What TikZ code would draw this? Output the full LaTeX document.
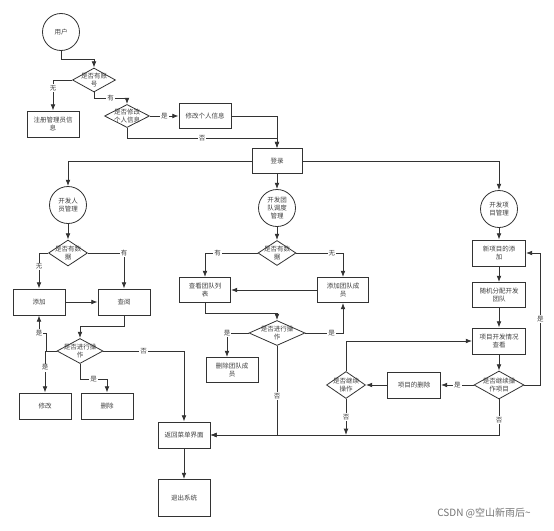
\documentclass[tikz,border=0pt]{standalone}
\usepackage{fontspec}
\setmainfont{Noto Sans CJK SC}
\usetikzlibrary{shapes.geometric, arrows.meta, positioning, calc}

\begin{document}
\begin{tikzpicture}[x=1pt, y=-1pt, every node/.style={font=\fontsize{6.5}{8}\selectfont, text=black!75},
    box/.style={draw=black!80, line width=0.8pt, minimum width=52, minimum height=26, align=center, inner sep=1pt},
    startnode/.style={draw=black!80, circle, line width=0.8pt, minimum size=37, align=center, inner sep=0pt},
    decision/.style={draw=black!80, diamond, line width=0.8pt, inner sep=0pt, label={[align=center]center:#1}},
    flow/.style={-{Latex[length=2.2mm]}, line width=0.8pt, black!80},
    lbl/.style={fill=white, inner sep=1pt}]
            \fill[white] (0,0) rectangle (554,530);
            \useasboundingbox (0,0) rectangle (554,530);
            % top part
            \node[startnode] (user) at (61,32) {用户};
            \node[decision={是否有账\\号}, minimum width=43, minimum height=24] (hasacc) at (94,80) {};
            \node[box] (register) at (53,124) {注册管理员信\\息};
            \node[decision={是否修改\\个人信息}, minimum width=45, minimum height=23] (askmod) at (127,116) {};
            \node[box, minimum height=25] (modinfo) at (205,116) {修改个人信息};
            \node[box, minimum width=50, minimum height=25] (login) at (277,161) {登录};
            \draw[flow] (user.south) -- ++(0,8) -| (hasacc.north);
            \draw[flow] (hasacc.west) -| node[lbl, pos=0.63]{无} (register.north);
            \draw[flow] (hasacc.south) -- ++(0,6) -| node[lbl, pos=0.25]{有} (askmod.north);
            \draw[flow] (askmod.east) -- node[lbl]{是} (modinfo.west);
            \draw[flow] (modinfo.east) -| (login.north);
            \draw[flow] (askmod.south) -- ++(0,10) -| node[lbl, pos=0.25]{否} (login.north);
            % developer branch
            \node[startnode] (devmgr) at (68,205) {开发人\\员管理};
            \node[decision={是否有数\\据}, minimum width=39, minimum height=26] (hasdata) at (68,253) {};
            \node[box] (add) at (39,302) {添加};
            \node[box] (query) at (124,302) {查阅};
            \node[decision={是否进行操\\作}, minimum width=46, minimum height=25] (askop) at (80,351) {};
            \node[box] (edit) at (45,406) {修改};
            \node[box] (remove) at (107,406) {删除};
            \node[box] (back) at (184,435) {返回菜单界面};
            \node[box, minimum height=37] (quit) at (184,498) {退出系统};
            \draw[flow] (login.west) -| (devmgr.north);
            \draw[flow] (devmgr.south) -- (hasdata.north);
            \draw[flow] (hasdata.west) -| node[lbl, pos=0.69]{无} (add.north);
            \draw[flow] (hasdata.east) -| node[lbl, pos=0.5]{有} (query.north);
            \draw[flow] (add.east) -- (query.west);
            \draw[flow] (query.south) -- ++(0,11) -| (askop.north);
            \draw[flow] (askop.west) -| node[lbl, pos=0.7]{是} (edit.north);
            \draw[flow] (askop.west) -| (46,333) -| node[lbl, pos=0.5]{是} (add.south);
            \draw[flow] (askop.south) -- ++(0,15) -| node[lbl, pos=0.25]{是} (remove.north);
            \draw[flow] (askop.east) -| node[lbl, pos=0.25]{否} (back.north);
            \draw[flow] (back.south) -- (quit.north);
            % team branch
            \node[startnode] (teammgr) at (277,208) {开发团\\队调度\\管理};
            \node[decision={是否有数\\据}, minimum width=38, minimum height=25] (hasteam) at (277,253) {};
            \node[box, minimum width=51, minimum height=25] (viewlist) at (205,290) {查看团队列\\表};
            \node[box, minimum width=51, minimum height=25] (addmember) at (343,290) {添加团队成\\员};
            \node[decision={是否进行操\\作}, minimum width=56, minimum height=25] (teamop) at (277,333) {};
            \node[box, minimum height=25] (delmember) at (232,370) {删除团队成\\员};
            \draw[flow] (login.south) -- (teammgr.north);
            \draw[flow] (teammgr.south) -- (hasteam.north);
            \draw[flow] (hasteam.west) -| node[lbl, pos=0.38]{有} (viewlist.north);
            \draw[flow] (hasteam.east) -| node[lbl, pos=0.38]{无} (addmember.north);
            \draw[flow] (addmember.west) -- (viewlist.east);
            \draw[flow] (viewlist.south) -- ++(0,10) -| (teamop.north);
            \draw[flow] (teamop.west) -| node[lbl, pos=0.5]{是} ([xshift=-5pt]delmember.north);
            \draw[flow] (teamop.east) -| node[lbl, pos=0.35]{是} (addmember.south);
            \draw[flow] (teamop.south) |- node[lbl, pos=0.28]{否} (back.east);
            % project branch
            \node[startnode] (projmgr) at (499,209) {开发项\\目管理};
            \node[box, minimum width=53] (newproj) at (499,253) {新项目的添\\加};
            \node[box, minimum width=53, minimum height=25] (assign) at (499,295) {随机分配开发\\团队};
            \node[box, minimum width=53] (viewproj) at (499,341) {项目开发情况\\查看};
            \node[decision={是否继续操\\作项目}, minimum width=50, minimum height=28] (projop) at (499,385) {};
            \node[box, minimum width=53] (delproj) at (414,385) {项目的删除};
            \node[decision={是否继续\\操作}, minimum width=39, minimum height=27] (goon) at (346,385) {};
            \coordinate (joinback) at (goon.south |- back.east);
            \draw[flow] (login.east) -| (projmgr.north);
            \draw[flow] (projmgr.south) -- (newproj.north);
            \draw[flow] (newproj.south) -- (assign.north);
            \draw[flow] (assign.south) -- (viewproj.north);
            \draw[flow] (viewproj.south) -- (projop.north);
            \draw[flow] (projop.east) -- ++(16,0) |- node[lbl, pos=0.25]{是} (newproj.east);
            \draw[flow] (projop.west) -- node[lbl]{是} (delproj.east);
            \draw[flow] (delproj.west) -- (goon.east);
            \draw[flow] (goon.north) |- (viewproj.west);
            \draw[flow] (goon.south) -- node[lbl]{否} (joinback);
            \draw[flow] (projop.south) |- node[lbl, pos=0.29]{否} (back.east);
            \node[text=black!55, font=\fontsize{10}{12}\selectfont] (mark) at (484,513) {CSDN @空山新雨后\textasciitilde};
        \end{tikzpicture}
\end{document}
